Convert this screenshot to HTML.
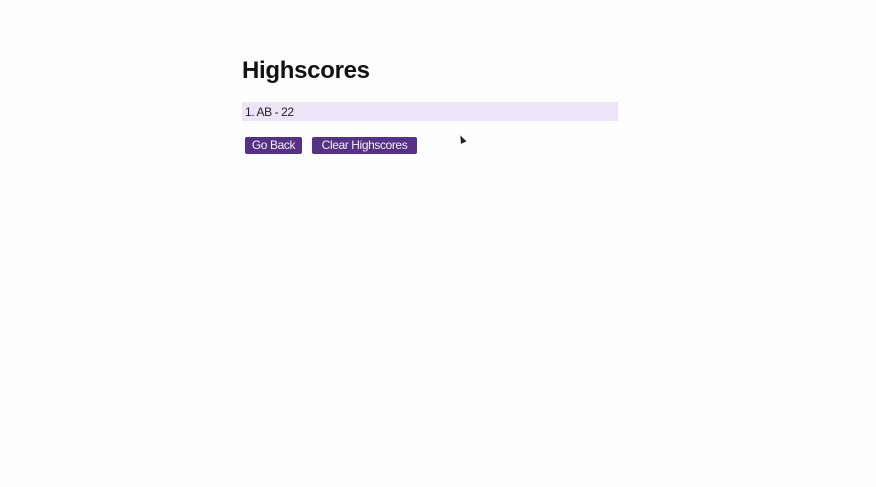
<!DOCTYPE html>
<html><head><meta charset="utf-8"><style>
html,body{margin:0;padding:0;width:876px;height:487px;background:#fefdfe;overflow:hidden;font-family:"Liberation Sans",sans-serif;}
h1{position:absolute;left:242px;top:57px;margin:0;font-size:24px;font-weight:bold;color:#111;letter-spacing:-0.3px;}
.row{position:absolute;left:242px;top:102px;width:376px;height:19px;background:#ece5f7;}
.row span{position:absolute;left:3px;top:3px;font-size:12px;color:#222;letter-spacing:-0.4px;}
.btn{position:absolute;top:137px;height:17px;background:#553283;color:#f4f0fa;font-size:12px;border-radius:2px;line-height:17px;text-align:center;letter-spacing:-0.4px;}
.cursor{position:absolute;left:459px;top:135px;width:0;height:0;border-left:3px solid transparent;border-right:3px solid transparent;border-bottom:8px solid #222;transform:rotate(-25deg);}
</style></head><body>
<h1>Highscores</h1>
<div class="row"><span>1. AB - 22</span></div>
<div class="btn" style="left:245px;width:57px;">Go Back</div>
<div class="btn" style="left:312px;width:105px;">Clear Highscores</div>
<div class="cursor"></div>
</body></html>
